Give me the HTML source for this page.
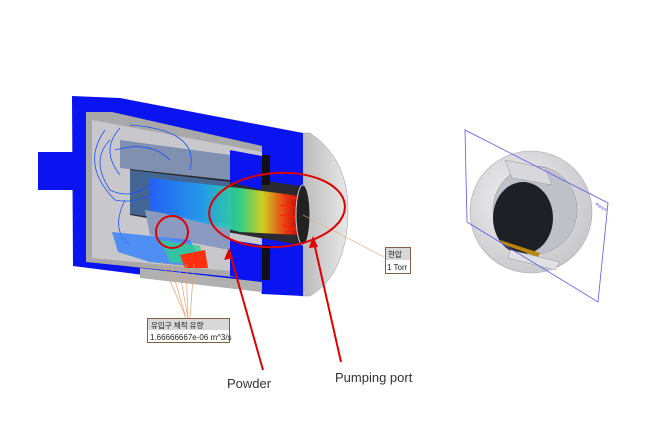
<!DOCTYPE html>
<html><head><meta charset="utf-8"><style>
html,body{margin:0;padding:0;background:#fff;}
svg{display:block}
</style></head><body>
<svg width="668" height="438" viewBox="0 0 668 438" xmlns="http://www.w3.org/2000/svg">
<defs>
<linearGradient id="flow" x1="0" x2="1" y1="0" y2="0">
<stop offset="0" stop-color="#2060ff"/><stop offset="0.35" stop-color="#20a0f0"/>
<stop offset="0.6" stop-color="#30e090"/><stop offset="0.75" stop-color="#e0e020"/>
<stop offset="0.9" stop-color="#ff4010"/><stop offset="1" stop-color="#d00000"/>
</linearGradient>
<linearGradient id="cap" x1="0" x2="1"><stop offset="0" stop-color="#b8b8b8"/><stop offset="1" stop-color="#e8e8e8"/></linearGradient>
<radialGradient id="disc" cx="0.4" cy="0.4" r="0.7"><stop offset="0" stop-color="#f2f2f2"/><stop offset="1" stop-color="#c4c4c8"/></radialGradient>
</defs>
<path d="M300 133 L310 133 Q350 160 348 215 Q346 275 310 296 L300 296 Z" fill="url(#cap)" stroke="#999" stroke-width="0.5"/>
<rect x="38" y="152" width="40" height="38" fill="#0a14f0"/>
<polygon points="72,96 120,98 303,133 303,296 262,294 260,290 73,266" fill="#0a14f0"/>
<polygon points="140,268 262,282 262,292 140,278" fill="#b0b0b0"/>
<polygon points="86,112 112,112 262,146 262,280 86,262" fill="#a8a8a8"/>
<polygon points="92,120 262,152 262,274 92,258" fill="#c8c8cc"/>
<polygon points="130,160 300,186 300,245 130,215" fill="#2a2a30"/>
<polygon points="130,170 230,182 232,228 130,214" fill="#5080c0" opacity="0.7"/>
<polygon points="120,140 230,155 230,180 120,168" fill="#8090b0"/>
<polygon points="145,210 230,225 230,250 150,235" fill="#8a9ac0"/>
<polygon points="230,150 262,156 262,190 230,182" fill="#0a14f0"/>
<polygon points="230,240 262,245 262,282 230,276" fill="#0a14f0"/>
<rect x="262" y="155" width="8" height="30" fill="#111"/>
<rect x="262" y="245" width="8" height="35" fill="#111"/>
<g fill="none" stroke="#2050ff" stroke-width="0.8">
<path d="M110 140 Q90 160 110 190 Q130 200 150 185"/>
<path d="M105 130 Q80 165 115 200 Q140 205 160 188"/>
<path d="M120 128 Q100 150 120 175"/>
<path d="M130 125 Q200 130 190 170"/>
<path d="M115 150 Q150 140 170 160"/>
<path d="M125 200 Q110 230 130 245"/>
</g>
<polygon points="150,178 240,188 300,196 300,235 240,232 150,210" fill="url(#flow)" opacity="0.9"/>
<g stroke="#ff2000" stroke-width="1"><path d="M282 195 L300 200 M280 205 L300 208 M280 215 L300 218 M282 225 L300 230"/></g>
<ellipse cx="303" cy="215" rx="7" ry="30" fill="#222" stroke="#ccc" stroke-width="1"/>
<polygon points="112,232 190,240 205,268 150,262 118,252" fill="#3080ff" opacity="0.8"/>
<polygon points="160,240 200,246 205,266 170,262" fill="#30d090" opacity="0.8"/>
<polygon points="180,255 205,250 208,268 185,268" fill="#ff3010"/>
<g stroke="#e8a070" stroke-width="0.7"><path d="M162 262 L186 318 M170 263 L186 318 M178 264 L188 318 M186 264 L188 318 M194 264 L190 318"/></g>
<line x1="303" y1="215" x2="386" y2="258" stroke="#e8b080" stroke-width="0.7"/>
<ellipse cx="277" cy="210" rx="68" ry="37" transform="rotate(-4 277 210)" fill="none" stroke="#e00000" stroke-width="2"/>
<circle cx="172" cy="232" r="16" fill="none" stroke="#e00000" stroke-width="2"/>
<line x1="263" y1="370" x2="229" y2="250" stroke="#e00000" stroke-width="2"/>
<polygon points="229,248 224,260 233,258" fill="#e00000"/>
<line x1="341" y1="362" x2="313" y2="238" stroke="#e00000" stroke-width="2"/>
<polygon points="313,236 309,248 318,247" fill="#e00000"/>
<rect x="147.5" y="318.5" width="82" height="24" fill="#fff" stroke="#806040"/>
<rect x="148" y="319" width="81" height="11" fill="#d8d8d8"/>
<text x="151" y="328" font-family="Liberation Sans, Noto Sans CJK KR, sans-serif" font-size="7.5" fill="#222">유입구 체적 유량</text>
<text x="150" y="340" font-family="Liberation Sans, sans-serif" font-size="8" fill="#222">1.66666667e-06 m^3/s</text>
<rect x="385.5" y="247.5" width="25" height="26" fill="#fff" stroke="#806040"/>
<rect x="386" y="248" width="24" height="12" fill="#d8d8d8"/>
<text x="388" y="257" font-family="Liberation Sans, Noto Sans CJK KR, sans-serif" font-size="7.5" fill="#222">현압</text>
<text x="387" y="270" font-family="Liberation Sans, sans-serif" font-size="8" fill="#222">1 Torr</text>
<text x="227" y="388" font-family="Liberation Sans, sans-serif" font-size="13" fill="#333">Powder</text>
<text x="335" y="382" font-family="Liberation Sans, sans-serif" font-size="13" fill="#333">Pumping port</text>
<ellipse cx="531" cy="212" rx="61" ry="61" fill="url(#disc)" stroke="#aaa" stroke-width="0.6"/>
<ellipse cx="535" cy="210" rx="42" ry="44" fill="#c0c0c8" stroke="#999" stroke-width="0.5"/>
<polygon points="505,160 545,168 552,185 512,178" fill="#d8d8dc" stroke="#999" stroke-width="0.5"/>
<ellipse cx="523" cy="218" rx="30" ry="36" fill="#1e2026"/>
<polygon points="500,240 540,253 538,257 502,244" fill="#b8860b"/>
<polygon points="510,250 560,262 555,270 508,258" fill="#e0e0e4" stroke="#999" stroke-width="0.5"/>
<polygon points="465,130 608,203 598,302 467,222" fill="none" stroke="#5858f0" stroke-width="0.8"/>
<text x="595" y="205" font-family="Liberation Sans, sans-serif" font-size="4" fill="#4040e0" transform="rotate(30 595 205)">Plane4</text>
</svg>
</body></html>
